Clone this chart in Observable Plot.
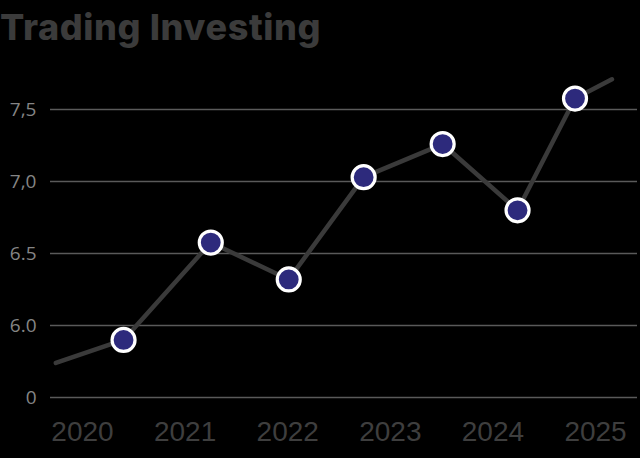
<!DOCTYPE html>
<html>
<head>
<meta charset="utf-8">
<script src="https://cdn.jsdelivr.net/npm/d3@7"></script>
<script src="https://cdn.jsdelivr.net/npm/@observablehq/plot@0.6"></script>
<style>
  html, body { margin: 0; padding: 0; background: #000; width: 640px; height: 458px; overflow: hidden; }
  #title { font-family: "Inter", "Lato", sans-serif; font-weight: 800; font-size: 36px; color: #3b3b3b;
           height: 55px; line-height: 55px; padding-left: 0px; letter-spacing: 0.6px; margin-top: 0px; }
  #chart svg { display: block; }
</style>
</head>
<body>
<div id="title">Trading Investing</div>
<div id="chart"></div>
<script>
// Line path positions (fractional years) and values
const lineX = [2019.74, 2020.40, 2021.25, 2022.01, 2022.74, 2023.51, 2024.24, 2024.80, 2025.16];
const lineY = [5.74, 5.90, 6.576, 6.32, 7.03, 7.26, 6.80, 7.576, 7.71];
// Which points carry a marker
const hasDot = [false, true, true, true, true, true, true, true, false];
// Axis ticks
const xTicks = [2020, 2021, 2022, 2023, 2024, 2025];
const xTickLabels = ["2020", "2021", "2022", "2023", "2024", "2025"];
const yTicks = [5.5, 6.0, 6.5, 7.0, 7.5];
const yTickLabels = ["0", "6.0", "6.5", "7,0", "7,5"];

const data = lineX.map((x, i) => ({x, y: lineY[i], dot: hasDot[i]}));

const chart = Plot.plot({
  width: 640,
  height: 403,
  marginLeft: 50,
  marginRight: 3,
  marginTop: 54,
  marginBottom: 61,
  style: {background: "#000"},
  x: {domain: [2019.688, 2025.409]},
  y: {domain: [5.5, 7.5]},
  marks: [
    Plot.ruleY(yTicks, {stroke: "#5a5a5a", strokeWidth: 1.5}),
    Plot.axisY({ticks: yTicks, tickSize: 0, tickPadding: 14, fontSize: 19,
      tickFormat: d => yTickLabels[yTicks.indexOf(d)], fill: "#858585",
      fontFamily: "Open Sans, sans-serif", label: null}),
    Plot.axisX({ticks: xTicks, tickSize: 0, tickPadding: 24, fontSize: 28,
      tickFormat: d => xTickLabels[xTicks.indexOf(d)], fill: "#3e3e3e",
      fontFamily: "Liberation Sans Narrow, sans-serif", label: null}),
    Plot.line(data, {x: "x", y: "y", stroke: "#3a3a3a", strokeWidth: 4.5}),
    Plot.dot(data.filter(d => d.dot), {x: "x", y: "y", r: 11.5, fill: "#2d2a7c", stroke: "#fff", strokeWidth: 3.2})
  ]
});
document.getElementById("chart").appendChild(chart);
</script>
</body>
</html>
